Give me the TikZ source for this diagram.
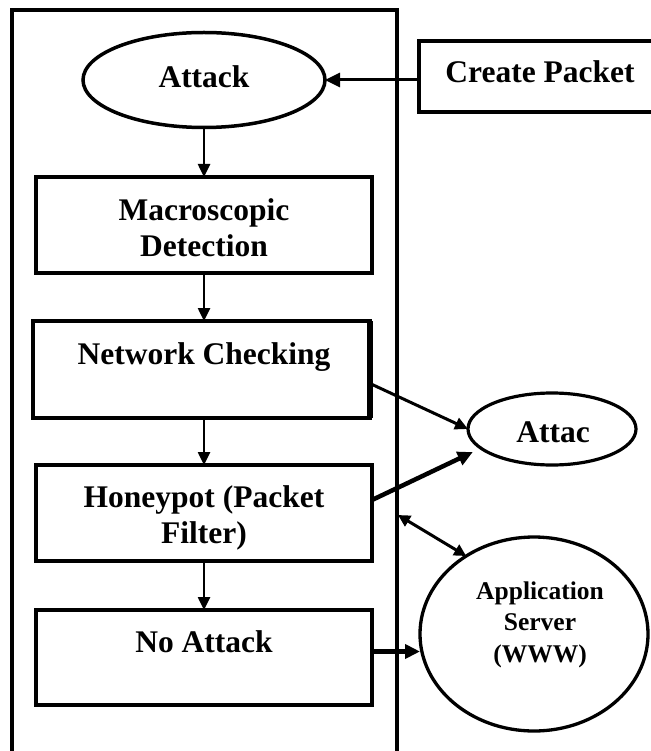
\documentclass[tikz,border=0pt]{standalone}
\usepackage{fontspec}
\setmainfont{Liberation Serif}
\usetikzlibrary{shapes.geometric,arrows.meta}
\tikzset{
  box/.style={draw, line width=4pt, inner sep=0pt, outer sep=0pt},
  oval/.style={draw, ellipse, line width=3.5pt, inner sep=0pt, outer sep=0pt},
  lbl/.style={font=\bfseries\fontsize{31.5}{36}\selectfont, inner sep=0pt, anchor=base},
  slbl/.style={font=\bfseries\fontsize{25.5}{31}\selectfont, inner sep=0pt, anchor=base},
  arr/.style={-{Triangle[length=13pt,width=12pt]}, line width=2.5pt},
  mid/.style={-{Triangle[length=13pt,width=12pt]}, line width=3pt},
  thk/.style={-{Triangle[length=15pt,width=14pt]}, line width=4.5pt},
  dbl/.style={{Triangle[length=12pt,width=12pt]}-{Triangle[length=12pt,width=12pt]}, line width=3pt},
}
\begin{document}
\begin{tikzpicture}[x=1pt,y=-1pt]
\useasboundingbox (0,0) rectangle (650,751);
% outer container (open at the bottom of the picture)
\node[draw, line width=3.3pt, inner sep=0pt, outer sep=0pt, anchor=north west,
      minimum width=385pt, minimum height=820pt] (outer) at (12,10) {};

% left column
\node[oval, minimum width=242pt, minimum height=95pt] (attack) at (204,80) {};
\node[lbl] (attackt) at (204,88) {Attack};

\node[box, minimum width=336pt, minimum height=96pt] (macro) at (204,225) {};
\node[lbl] (macrot1) at (204,220) {Macroscopic};
\node[lbl] (macrot2) at (204,256) {Detection};

\node[box, minimum width=337pt, minimum height=97pt] (nc) at (201.5,369.5) {};
\node[lbl] (nct) at (204,364) {Network Checking};

\node[box, minimum width=336pt, minimum height=96pt] (hp) at (204,513) {};
\node[lbl] (hpt1) at (204,507) {Honeypot (Packet};
\node[lbl] (hpt2) at (204,543) {Filter)};

\node[box, minimum width=336pt, minimum height=95pt] (na) at (204,657.5) {};
\node[lbl] (nat) at (204,652) {No Attack};

% right side
\node[box, anchor=west, minimum width=245pt, minimum height=71pt] (cp) at (419,76.5) {};
\node[lbl] (cpt) at (540,83) {Create Packet};

\node[oval, line width=3.2pt, minimum width=168pt, minimum height=72pt] (attac) at (552,429) {};
\node[lbl] (attact) at (553,442) {Attac};

\node[oval, line width=3.3pt, minimum width=228pt, minimum height=194pt] (app) at (534,634) {};
\node[slbl] (appt1) at (540,599) {Application};
\node[slbl] (appt2) at (540,630) {Server};
\node[slbl] (appt3) at (540,662) {(WWW)};

% thicker right edge of Network Checking
\draw[line width=5.5pt] (nc.north east) -- (nc.south east);

% connectors
\draw[mid, -{Triangle[length=15pt,width=14pt]}] (cp.west |- attack.east) -- (attack.east);
\draw[arr] (attack.south) -- (macro.north);
\draw[arr] (macro.south) -- (macro.south |- nc.north);
\draw[arr] (macro.south |- nc.south) -- (hp.north);
\draw[arr] (hp.south) -- (na.north);

\draw[mid] ([yshift=-14pt]nc.east) -- (attac.west);
\draw[thk] ([yshift=13pt]hp.east) -- ([shift={(-8pt,-4pt)}]attac.195);
\coordinate (dstart) at (398,515);
\draw[dbl] (dstart) -- (app.131);
\draw[thk] ([yshift=6pt]na.east) -- ([yshift=6pt]na.east -| app.west);
\end{tikzpicture}
\end{document}
